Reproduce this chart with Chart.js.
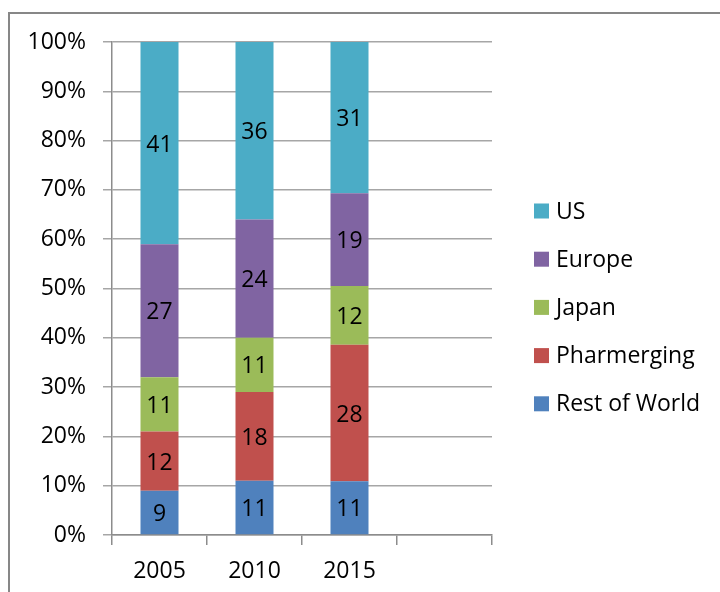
<!DOCTYPE html>
<html>
<head>
<meta charset="utf-8">
<script src="https://cdn.jsdelivr.net/npm/chart.js@4/dist/chart.umd.min.js"></script>
<style>
html,body{margin:0;padding:0;background:#fff;overflow:hidden;}
#wrap{position:relative;width:720px;height:592px;}
</style>
</head>
<body>
<div id="wrap"><canvas id="c" width="720" height="592"></canvas></div>
<script>
const categories = ['2005', '2010', '2015', ''];
const restOfWorld = [9, 11, 11];
const pharmerging = [12, 18, 28];
const japan = [11, 11, 12];
const europe = [27, 24, 19];
const us = [41, 36, 31];
const yTickSuffix = '%';

const seriesNames = ['Rest of World', 'Pharmerging', 'Japan', 'Europe', 'US'];
const seriesValues = [restOfWorld, pharmerging, japan, europe, us];
const seriesColors = ['#4f81bd', '#c0504d', '#9bbb59', '#8064a2', '#4bacc6'];

const totals = restOfWorld.map((_, i) => seriesValues.reduce((s, arr) => s + arr[i], 0));

const FONT = '"Open Sans", "Liberation Sans", sans-serif';
const FS = 23;

const datasets = seriesNames.map((name, k) => ({
  label: name,
  raw: seriesValues[k],
  data: seriesValues[k].map((v, i) => v / totals[i] * 100),
  backgroundColor: seriesColors[k],
  borderWidth: 0,
  categoryPercentage: 1.0,
  barPercentage: 0.4
}));

const framePlugin = {
  id: 'frame',
  beforeDraw(chart) {
    const ctx = chart.ctx;
    ctx.save();
    ctx.fillStyle = '#ffffff';
    ctx.fillRect(0, 0, chart.width, chart.height);
    ctx.strokeStyle = '#878787';
    ctx.lineWidth = 2;
    ctx.beginPath();
    ctx.moveTo(9, chart.height + 5);
    ctx.lineTo(9, 13);
    ctx.lineTo(chart.width + 5, 13);
    ctx.stroke();
    ctx.restore();
  }
};

const labelPlugin = {
  id: 'segLabels',
  afterDatasetsDraw(chart) {
    const ctx = chart.ctx;
    ctx.save();
    ctx.font = FS + 'px ' + FONT;
    ctx.fillStyle = '#000000';
    ctx.textAlign = 'center';
    ctx.textBaseline = 'middle';
    chart.data.datasets.forEach((ds, di) => {
      const meta = chart.getDatasetMeta(di);
      meta.data.forEach((el, i) => {
        if (ds.raw[i] == null) return;
        const p = el.getProps(['x', 'y', 'base'], true);
        ctx.fillText(String(ds.raw[i]), p.x, (p.y + p.base) / 2 + 2);
      });
    });
    ctx.restore();
  }
};

const legendPlugin = {
  id: 'sideLegend',
  afterDraw(chart) {
    const ctx = chart.ctx;
    ctx.save();
    ctx.font = FS + 'px ' + FONT;
    ctx.textAlign = 'left';
    ctx.textBaseline = 'middle';
    const dsList = chart.data.datasets.slice().reverse();
    const x0 = 534, y0 = 211, step = 48.2, box = 15;
    dsList.forEach((ds, i) => {
      const y = y0 + i * step;
      ctx.fillStyle = ds.backgroundColor;
      ctx.fillRect(x0, y - box / 2, box, box);
      ctx.fillStyle = '#000000';
      ctx.fillText(ds.label, x0 + box + 7, y + 1);
    });
    ctx.restore();
  }
};

new Chart(document.getElementById('c'), {
  type: 'bar',
  data: { labels: categories, datasets },
  options: {
    responsive: false,
    animation: false,
    layout: { padding: { left: 0, top: 42, right: 228, bottom: 0 } },
    plugins: { legend: { display: false }, tooltip: { enabled: false } },
    scales: {
      x: {
        stacked: true,
        grid: { offset: true, drawOnChartArea: false, drawTicks: true, tickLength: 10, color: '#8c8c8c', lineWidth: 1.5 },
        border: { display: true, color: '#8c8c8c', width: 1.5 },
        ticks: { font: { family: FONT, size: FS }, color: '#000', padding: 13 },
        afterFit(scale) { scale.height = 57; }
      },
      y: {
        stacked: true,
        min: 0, max: 100,
        grid: { color: '#a6a6a6', lineWidth: 1.5, tickLength: 9, drawTicks: true },
        border: { display: true, color: '#8c8c8c', width: 1.5 },
        ticks: {
          stepSize: 10,
          font: { family: FONT, size: FS },
          color: '#000',
          padding: 17,
          callback: v => v + yTickSuffix
        },
        afterFit(scale) { scale.width = 112; }
      }
    }
  },
  plugins: [framePlugin, labelPlugin, legendPlugin]
});
</script>
</body>
</html>
